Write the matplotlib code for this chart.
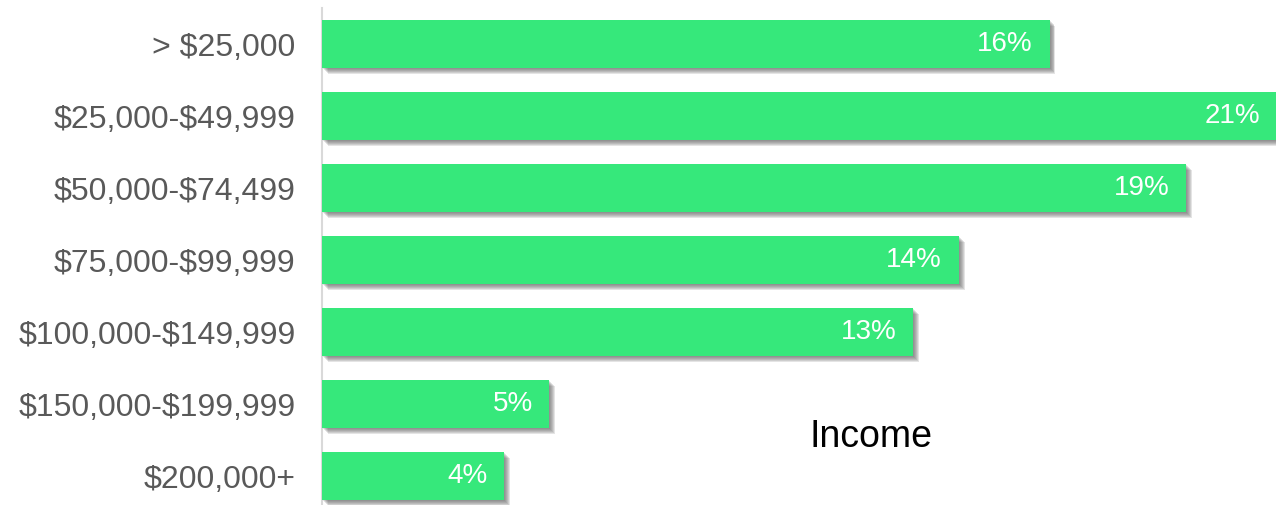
import matplotlib
matplotlib.use("Agg")
import matplotlib.pyplot as plt
import matplotlib.patheffects as pe

plt.rcParams["font.family"] = ["Liberation Sans", "DejaVu Sans"]
plt.rcParams["text.parse_math"] = False

CATEGORIES = ["> $25,000", "$25,000-$49,999", "$50,000-$74,499", "$75,000-$99,999",
              "$100,000-$149,999", "$150,000-$199,999", "$200,000+"]
SHARES = [16, 21, 19, 14, 13, 5, 4]
LABELS = ["16%", "21%", "19%", "14%", "13%", "5%", "4%"]

GREEN = "#36E87B"


def main():
    fig = plt.figure(figsize=(12.76, 5.05), dpi=100)
    # axes runs from x=322px to the right edge, top at 8px, bottom just below the canvas
    ax = fig.add_axes([322 / 1276, -7 / 505, 955 / 1276, 504 / 505])
    ax.set_xlim(0, 21)
    ax.set_ylim(len(CATEGORIES) - 0.5, -0.5)

    # soft drop shadow: stacked translucent copies at growing offsets
    shadow = [pe.SimplePatchShadow(offset=(o, -o), shadow_rgbFace="#606060", alpha=0.17)
              for o in (0.7, 1.4, 2.1, 2.8, 3.5, 4.2)] + [pe.Normal()]

    ys = range(len(CATEGORIES))
    bars = ax.barh(list(ys), SHARES, height=0.667, color=GREEN, zorder=3)
    for b in bars:
        b.set_path_effects(shadow)

    for y, v, lab in zip(ys, SHARES, LABELS):
        ax.annotate(lab, xy=(v, y), xytext=(-12, 0), textcoords="offset points",
                    ha="right", va="center", color="white", fontsize=20, zorder=4)

    ax.set_yticks(list(ys))
    ax.set_yticklabels(CATEGORIES, fontsize=23, color="#595959")
    ax.tick_params(axis="y", length=0, pad=19)
    ax.set_xticks([])
    for side in ("top", "right", "bottom"):
        ax.spines[side].set_visible(False)
    ax.spines["left"].set_color("#D9D9D9")
    ax.spines["left"].set_linewidth(1.5)

    fig.text(871 / 1276, 1 - 437 / 505, "Income", ha="center", va="center",
             fontsize=27, color="black")

    fig.savefig("out.png", dpi=100)


if __name__ == "__main__":
    main()
